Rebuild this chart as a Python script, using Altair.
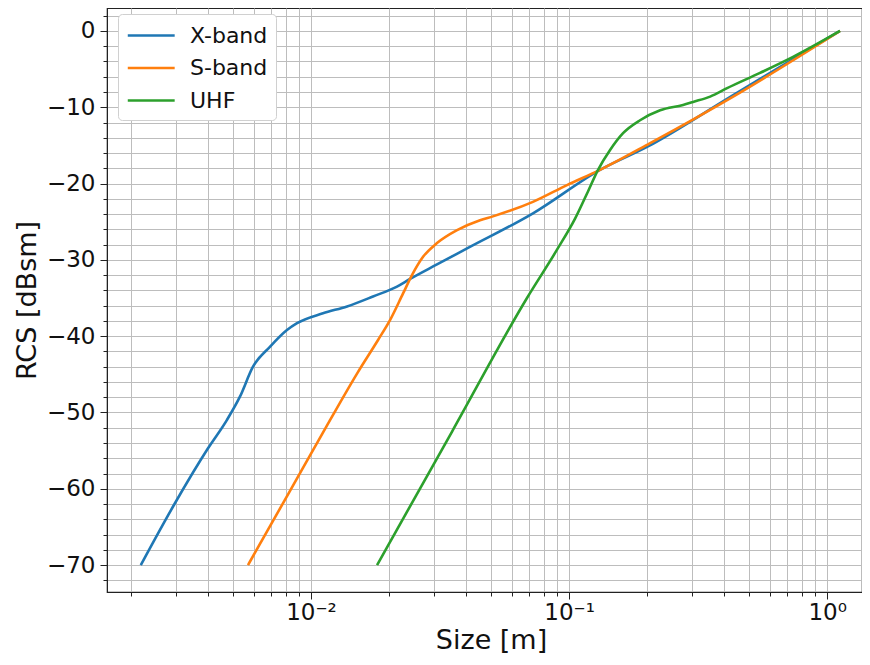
import altair as alt
import pandas as pd

SERIES = ["X-band", "S-band", "UHF"]
COLORS = ["#1f77b4", "#ff7f0e", "#2ca02c"]

X_SIZE = [0.00219, 0.00297, 0.00399, 0.00472, 0.00531, 0.00596, 0.00693, 0.00807,
          0.00883, 0.01113, 0.0138, 0.01739, 0.02154, 0.0242, 0.03078, 0.04025,
          0.07248, 0.1318, 0.2005, 0.4325, 1.122]
X_RCS = [-70, -61.9, -54.7, -51.0, -47.9, -44.0, -41.4, -39.2,
         -38.3, -37.0, -36.1, -34.8, -33.5, -32.5, -30.6, -28.5,
         -23.9, -18.2, -15.2, -8.4, 0]

S_SIZE = [0.0057, 0.00822, 0.01185, 0.01508, 0.01819, 0.02024, 0.02274, 0.02462,
          0.02718, 0.03078, 0.03682, 0.04519, 0.0507, 0.07244, 0.09817, 0.1318,
          0.2062, 0.4325, 1.122]
S_RCS = [-70, -60.5, -51.0, -44.9, -40.5, -37.9, -34.4, -32.0,
         -29.6, -27.8, -26.1, -24.8, -24.3, -22.4, -20.2, -18.2,
         -14.7, -8.6, 0]

U_SIZE = [0.01803, 0.03521, 0.06871, 0.0897, 0.1055, 0.1174, 0.1295, 0.1442,
          0.1619, 0.1884, 0.2254, 0.2766, 0.3024, 0.3522, 0.4096,
          0.5495, 0.7379, 1.122]
U_RCS = [-70, -52.5, -35.0, -28.7, -24.6, -21.3, -18.2, -15.6,
         -13.4, -11.7, -10.4, -9.7, -9.3, -8.6, -7.5,
         -5.5, -3.4, 0]

X_TICKS = [0.002, 0.003, 0.004, 0.005, 0.006, 0.007, 0.008, 0.009,
           0.01, 0.02, 0.03, 0.04, 0.05, 0.06, 0.07, 0.08, 0.09,
           0.1, 0.2, 0.3, 0.4, 0.5, 0.6, 0.7, 0.8, 0.9, 1]
X_MAJOR = [0.01, 0.1, 1]
X_MAJOR_LABELS = ["10⁻²", "10⁻¹", "10⁰"]
Y_TICKS = list(range(-72, 3, 2))

rows = []
for name, xs, ys in [("X-band", X_SIZE, X_RCS), ("S-band", S_SIZE, S_RCS), ("UHF", U_SIZE, U_RCS)]:
    for i, (a, b) in enumerate(zip(xs, ys)):
        rows.append({"series": name, "size": a, "rcs": b, "idx": i})
df = pd.DataFrame(rows)

x_label_expr = " : ".join(
    f"datum.value == {v} ? '{l}'" for v, l in zip(X_MAJOR, X_MAJOR_LABELS)
) + " : ''"
x_major_test = "indexof([" + ",".join(str(v) for v in X_MAJOR) + "], datum.value) >= 0"

FONT = "DejaVu Sans"

chart = alt.Chart(df).mark_line(strokeWidth=2.6, interpolate="monotone").encode(
    x=alt.X("size:Q",
            scale=alt.Scale(type="log", domain=[0.00162, 1.365], nice=False),
            axis=alt.Axis(values=X_TICKS, labelExpr=x_label_expr, title="Size [m]",
                          grid=True, gridColor="#bdbdbd", gridWidth=1,
                          tickSize={"condition": {"test": x_major_test, "value": 7}, "value": 4},
                          tickColor="#222", domainColor="#222",
                          labelFont=FONT, labelFontSize=23, labelColor="#111",
                          labelPadding=2, labelFlush=False, labelOverlap=False,
                          titleFont=FONT, titleFontSize=27, titleFontWeight="normal",
                          titleColor="#111", titlePadding=3, titleX=384)),
    y=alt.Y("rcs:Q",
            scale=alt.Scale(domain=[-73.53, 3.01], nice=False, zero=False),
            axis=alt.Axis(values=Y_TICKS,
                          labelExpr="datum.value % 10 == 0 ? datum.label : ''",
                          title="RCS [dBsm]",
                          grid=True, gridColor="#bdbdbd", gridWidth=1,
                          tickSize={"condition": {"test": "datum.value % 10 == 0", "value": 7}, "value": 4},
                          tickColor="#222", domainColor="#222",
                          labelFont=FONT, labelFontSize=23, labelColor="#111",
                          labelPadding=5, labelOverlap=False,
                          titleFont=FONT, titleFontSize=27, titleFontWeight="normal",
                          titleColor="#111", titlePadding=5)),
    color=alt.Color("series:N",
                    scale=alt.Scale(domain=SERIES, range=COLORS),
                    legend=alt.Legend(title=None, orient="none", legendX=11, legendY=6,
                                      symbolType="M-1,0H3", symbolSize=550,
                                      symbolStrokeWidth=2.6, symbolFillColor="transparent",
                                      labelFont=FONT, labelFontSize=22, labelColor="#111",
                                      labelOffset=37, rowPadding=7.5,
                                      fillColor="white", strokeColor="#d0d0d0",
                                      cornerRadius=4, padding=8)),
    order="idx:Q",
).properties(
    width=755, height=584,
    autosize=alt.AutoSizeParams(type="none"),
    padding={"left": 99, "top": 0, "right": 0, "bottom": 65},
).configure_view(stroke="#222", strokeWidth=1.2)

chart.save("out.html", embed_options={"renderer": "svg", "actions": False})
